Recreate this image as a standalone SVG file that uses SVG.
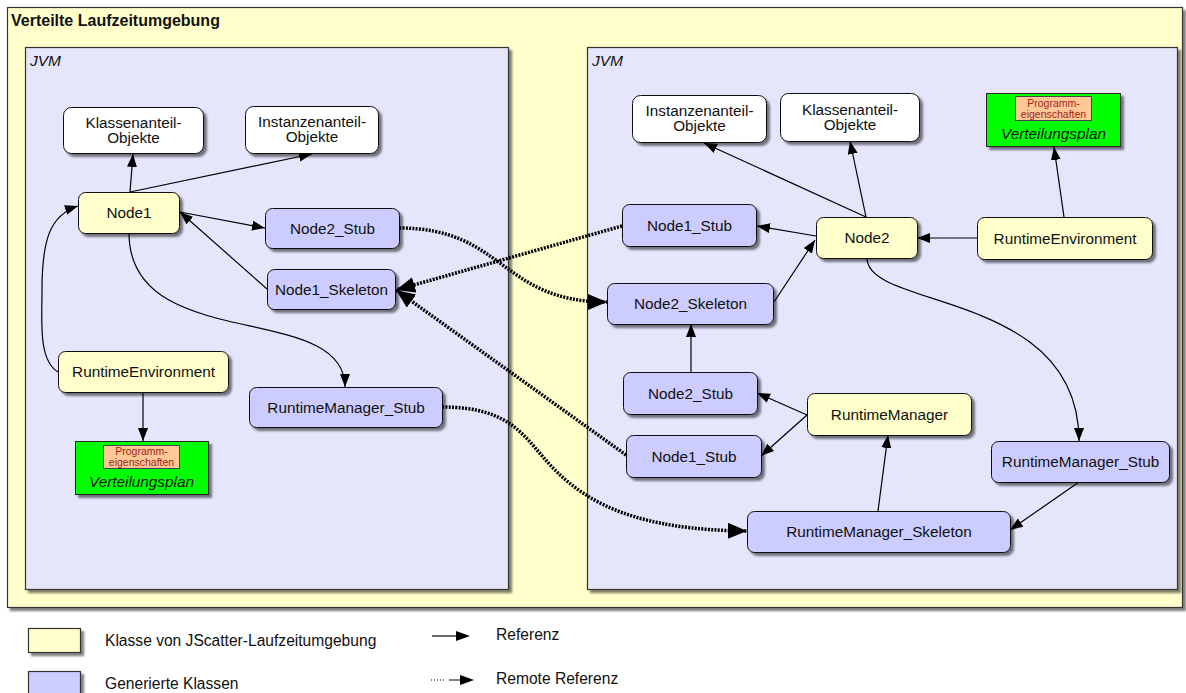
<svg xmlns="http://www.w3.org/2000/svg" width="1186" height="693" viewBox="0 0 1186 693">
  <defs>
    <filter id="shadow" x="-10%" y="-10%" width="130%" height="140%">
      <feDropShadow dx="3" dy="3" stdDeviation="0.8" flood-color="#000" flood-opacity="0.5"/>
    </filter>
    <marker id="arrow" markerUnits="userSpaceOnUse" markerWidth="13" markerHeight="10" refX="13" refY="5" orient="auto">
      <path d="M0,0 L13,5 L0,10 z" fill="#000"/>
    </marker>
    <marker id="arrowRemote" markerUnits="userSpaceOnUse" markerWidth="19" markerHeight="16" refX="19" refY="8" orient="auto">
      <path d="M0,0 L19,8 L0,16 z" fill="#000"/>
    </marker>
    <style>
      text { font-family: "Liberation Sans", Arial, Helvetica, sans-serif; fill: #111; }
      .label { font-size: 15.3px; text-anchor: middle; }
      .title { font-size: 16px; font-weight: bold; }
      .jvm-title { font-size: 15.5px; font-style: italic; }
      .plan-title { font-size: 15.3px; font-style: italic; text-anchor: middle; }
      .props { font-size: 10.5px; text-anchor: middle; fill: #A0241C; }
      .legend { font-size: 15.6px; }
      .box { stroke: #111; stroke-width: 1; filter: url(#shadow); }
      .runtime { fill: #FFFFCC; }
      .generated { fill: #CCCCFF; }
      .objects { fill: #FFFFFF; }
      .plan { fill: #00FF00; stroke: #222; stroke-width: 1; filter: url(#shadow); }
      .props-box { fill: #FFC896; stroke: #444; stroke-width: 1; }
      .ref { fill: none; stroke: #000; stroke-width: 1.2; marker-end: url(#arrow); }
      .remote { fill: none; stroke: #000; stroke-width: 3.5; stroke-dasharray: 2 1.3; marker-end: url(#arrowRemote); }
      .frame { stroke: #333; stroke-width: 1.2; filter: url(#shadow); }
    </style>
  </defs>

  <rect width="1186" height="693" fill="#FFFFFF"/>

  <!-- runtime environment frame -->
  <g id="laufzeitumgebung">
    <rect class="frame" x="7.5" y="7.5" width="1175" height="600" fill="#FFFFCC"/>
    <text class="title" x="11" y="26">Verteilte Laufzeitumgebung</text>
  </g>

  <!-- two JVMs -->
  <g id="jvm-left">
    <rect class="frame" x="25.5" y="47.5" width="483" height="542" fill="#E5E5FC"/>
    <text class="jvm-title" x="30" y="66">JVM</text>
  </g>
  <g id="jvm-right">
    <rect class="frame" x="587.5" y="47.5" width="590" height="542" fill="#E5E5FC"/>
    <text class="jvm-title" x="592" y="66">JVM</text>
  </g>

  <!-- connectors -->
  <g id="connectors">
    <!-- left JVM references -->
    <path class="ref" d="M130,192 L133,154"/>
    <path class="ref" d="M130,192 L312,154"/>
    <path class="ref" d="M180,212 L265,228"/>
    <path class="ref" d="M267,289 L180,212"/>
    <path class="ref" d="M129,233 C129,355 345,300 345,387"/>
    <path class="ref" d="M58,372 C38,360 42,320 42,290 C42,240 50,215 78,206"/>
    <path class="ref" d="M143,392 L143,441"/>

    <!-- right JVM references -->
    <path class="ref" d="M866,217 L704,143"/>
    <path class="ref" d="M866,217 L850,141"/>
    <path class="ref" d="M816,236 L757,226"/>
    <path class="ref" d="M977,238 L917,238"/>
    <path class="ref" d="M1064,217 L1054,147"/>
    <path class="ref" d="M774,302 L815,240"/>
    <path class="ref" d="M867,258 C867,310 1079,290 1079,441"/>
    <path class="ref" d="M691,372 L691,324"/>
    <path class="ref" d="M807,415 L757,393"/>
    <path class="ref" d="M807,415 L761,456"/>
    <path class="ref" d="M878,511 L888,435"/>
    <path class="ref" d="M1079,482 L1010,530"/>

    <!-- remote references -->
    <path class="remote" d="M399,228 C505,228 500,302 607,302"/>
    <path class="remote" d="M622,226 L396,290"/>
    <path class="remote" d="M626,455 L396,290"/>
    <path class="remote" d="M442,407 C515,407 525,440 555,470 C590,505 640,530 747,531"/>
  </g>

  <!-- left JVM nodes -->
  <g id="klassenanteil-left">
    <rect class="box objects" x="63.5" y="107.5" width="140" height="46" rx="8"/>
    <text class="label" x="133.5" y="128">Klassenanteil-</text>
    <text class="label" x="133.5" y="143">Objekte</text>
  </g>
  <g id="instanzenanteil-left">
    <rect class="box objects" x="245.5" y="106.5" width="133" height="47" rx="8"/>
    <text class="label" x="312" y="127">Instanzenanteil-</text>
    <text class="label" x="312" y="142">Objekte</text>
  </g>
  <g id="node1">
    <rect class="box runtime" x="78.5" y="192.5" width="101" height="41" rx="7"/>
    <text class="label" x="129" y="218">Node1</text>
  </g>
  <g id="node2-stub-left">
    <rect class="box generated" x="265.5" y="208.5" width="134" height="40" rx="7"/>
    <text class="label" x="332.5" y="234">Node2_Stub</text>
  </g>
  <g id="node1-skeleton-left">
    <rect class="box generated" x="267.5" y="269.5" width="128" height="40" rx="7"/>
    <text class="label" x="331.5" y="295">Node1_Skeleton</text>
  </g>
  <g id="runtime-environment-left">
    <rect class="box runtime" x="58.5" y="351.5" width="170" height="41" rx="7"/>
    <text class="label" x="143.5" y="377">RuntimeEnvironment</text>
  </g>
  <g id="verteilungsplan-left">
    <rect class="plan" x="75.5" y="441.5" width="133" height="53"/>
    <rect class="props-box" x="103.5" y="445.5" width="76" height="23"/>
    <text class="props" x="141.5" y="455">Programm-</text>
    <text class="props" x="141.5" y="466">eigenschaften</text>
    <text class="plan-title" x="141.5" y="487">Verteilungsplan</text>
  </g>
  <g id="runtime-manager-stub-left">
    <rect class="box generated" x="249.5" y="387.5" width="193" height="40" rx="7"/>
    <text class="label" x="346" y="413">RuntimeManager_Stub</text>
  </g>

  <!-- right JVM nodes -->
  <g id="instanzenanteil-right">
    <rect class="box objects" x="632.5" y="95.5" width="134" height="47" rx="8"/>
    <text class="label" x="699.5" y="116">Instanzenanteil-</text>
    <text class="label" x="699.5" y="131">Objekte</text>
  </g>
  <g id="klassenanteil-right">
    <rect class="box objects" x="780.5" y="93.5" width="139" height="48" rx="8"/>
    <text class="label" x="850" y="115">Klassenanteil-</text>
    <text class="label" x="850" y="130">Objekte</text>
  </g>
  <g id="verteilungsplan-right">
    <rect class="plan" x="986.5" y="93.5" width="134" height="53"/>
    <rect class="props-box" x="1015.5" y="96.5" width="76" height="24"/>
    <text class="props" x="1053.5" y="107">Programm-</text>
    <text class="props" x="1053.5" y="118">eigenschaften</text>
    <text class="plan-title" x="1053.5" y="139">Verteilungsplan</text>
  </g>
  <g id="node1-stub-right">
    <rect class="box generated" x="622.5" y="204.5" width="134" height="42" rx="7"/>
    <text class="label" x="689.5" y="231">Node1_Stub</text>
  </g>
  <g id="node2">
    <rect class="box runtime" x="816.5" y="217.5" width="101" height="41" rx="7"/>
    <text class="label" x="867" y="243">Node2</text>
  </g>
  <g id="runtime-environment-right">
    <rect class="box runtime" x="977.5" y="217.5" width="175" height="42" rx="7"/>
    <text class="label" x="1065" y="244">RuntimeEnvironment</text>
  </g>
  <g id="node2-skeleton-right">
    <rect class="box generated" x="607.5" y="283.5" width="166" height="41" rx="7"/>
    <text class="label" x="690.5" y="309">Node2_Skeleton</text>
  </g>
  <g id="node2-stub-right">
    <rect class="box generated" x="623.5" y="372.5" width="134" height="42" rx="7"/>
    <text class="label" x="690.5" y="399">Node2_Stub</text>
  </g>
  <g id="runtime-manager">
    <rect class="box runtime" x="807.5" y="393.5" width="164" height="42" rx="7"/>
    <text class="label" x="889.5" y="420">RuntimeManager</text>
  </g>
  <g id="node1-stub-right-2">
    <rect class="box generated" x="626.5" y="435.5" width="135" height="42" rx="7"/>
    <text class="label" x="694" y="462">Node1_Stub</text>
  </g>
  <g id="runtime-manager-stub-right">
    <rect class="box generated" x="991.5" y="441.5" width="178" height="41" rx="7"/>
    <text class="label" x="1080.5" y="467">RuntimeManager_Stub</text>
  </g>
  <g id="runtime-manager-skeleton">
    <rect class="box generated" x="747.5" y="511.5" width="263" height="41" rx="7"/>
    <text class="label" x="879" y="537">RuntimeManager_Skeleton</text>
  </g>

  <!-- legend -->
  <g id="legend">
    <rect class="frame" x="28.5" y="628.5" width="52" height="24" fill="#FFFFCC"/>
    <text class="legend" x="105" y="646">Klasse von JScatter-Laufzeitumgebung</text>
    <rect class="frame" x="28.5" y="671.5" width="52" height="24" fill="#CCCCFF"/>
    <text class="legend" x="105" y="689">Generierte Klassen</text>
    <path d="M432,636 L456,636" stroke="#000" stroke-width="1.2" fill="none"/>
    <path d="M456,631 L470,636 L456,641 z" fill="#000"/>
    <text class="legend" x="496" y="640">Referenz</text>
    <path d="M431,680 L446,680" stroke="#000" stroke-width="1" stroke-dasharray="1 2" fill="none"/>
    <path d="M449,680 L460,680" stroke="#000" stroke-width="1" fill="none"/>
    <path d="M460,675 L474,680 L460,685 z" fill="#000"/>
    <text class="legend" x="496" y="684">Remote Referenz</text>
  </g>
</svg>
